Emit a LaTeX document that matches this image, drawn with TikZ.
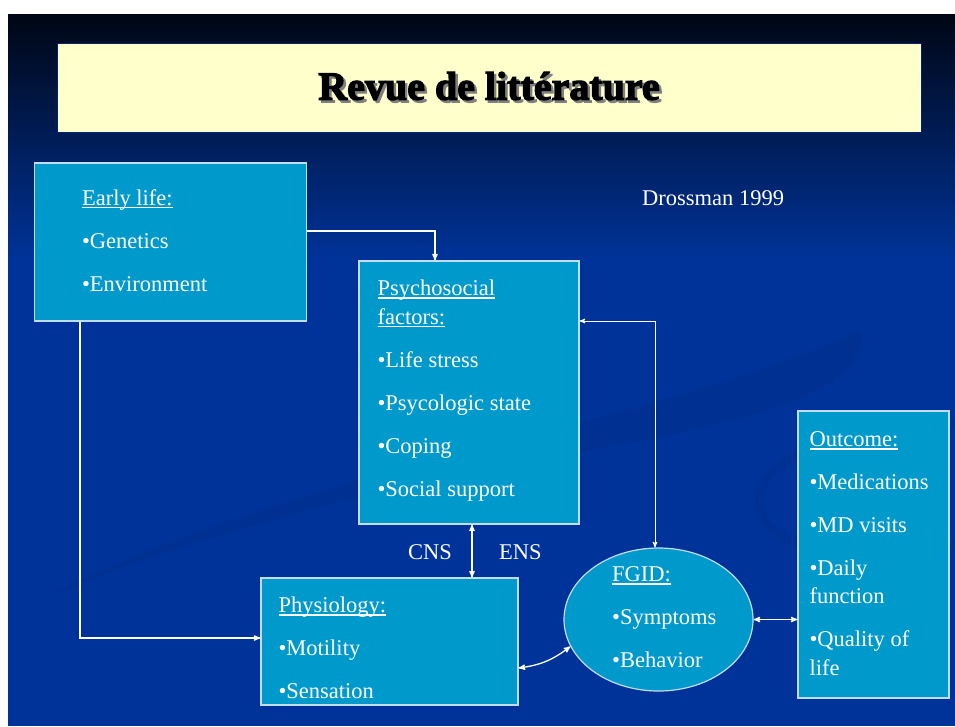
\documentclass[tikz,border=0pt]{standalone}
\usepackage{fontspec}
\setmainfont{Liberation Serif}
\newfontfamily\titlefont{Liberation Serif}[BoldFeatures={FakeBold=3}]
\usetikzlibrary{arrows,shapes.geometric,positioning}

\definecolor{slideblue}{HTML}{003399}
\definecolor{slidetop}{HTML}{000614}
\definecolor{boxblue}{HTML}{0099CC}
\definecolor{boxline}{HTML}{C4DCF0}
\definecolor{titlebg}{HTML}{FFFFCC}
\definecolor{swirl}{HTML}{003192}

% underlined heading, rule crossing the descenders
\newcommand{\ulhead}[1]{\setbox0\hbox{#1}\rlap{\rule[-3.4pt]{\wd0}{1.9pt}}\box0}

\tikzset{
  box/.style={rectangle, draw=boxline, line width=1.2pt, fill=boxblue, inner sep=0pt},
  txt/.style={text=white, inner sep=0pt, align=left, anchor=north west,
    font=\fontsize{22.5}{28.5}\selectfont},
  link/.style={draw=white, line width=1.3pt},
  heading/.style={font=\titlefont\bfseries\fontsize{40}{44}\selectfont},
}

\begin{document}
\begin{tikzpicture}[x=1pt, y=-1pt, >=stealth']
\useasboundingbox (0,0) rectangle (955,726);
% slide background
\fill[white] (0,0) rectangle (955,726);
\fill[slideblue] (8,14) rectangle (955,726);
\shade[top color=slidetop, bottom color=slideblue] (8,14) rectangle (955,260);
\fill[swirl] (20,610) .. controls (300,460) and (650,430) .. (860,330)
  .. controls (875,375) and (800,415) .. (600,448)
  .. controls (350,490) and (150,550) .. cycle;
\draw[swirl, line width=8pt] (955,425) .. controls (800,430) and (730,480) .. (770,525)
  .. controls (800,560) and (900,560) .. (955,545);

% title
\node[fill=titlebg, draw=slideblue!70!black, line width=1pt, minimum width=864,
  minimum height=89, inner sep=0pt] (title) at (489,87.5) {};
\node[heading, text=black!50] (title-shadow)
  at ([shift={(2.5pt,-1pt)}]title.center) {Revue de littérature};
\node[heading, text=black] (title-txt) at ([yshift=1.5pt]title.center) {Revue de littérature};

% boxes
\node[box, minimum width=272, minimum height=158] (early) at (170.5,242) {};
\node[box, minimum width=220, minimum height=263] (psycho) at (469,392.5) {};
\node[box, minimum width=257, minimum height=127] (physio) at (389.5,641.5) {};
\node[box, minimum width=151, minimum height=287] (outcome) at (873.5,554.5) {};
\node[box, ellipse, minimum width=189, minimum height=143] (fgid) at (658.5,619.5) {};

% box texts
\node[txt] (early-txt) at ([shift={(48,26.6)}]early.north west)
  {\ulhead{Early life:}\\[14.5pt] •Genetics\\[14.5pt] •Environment};
\node[txt] (psycho-txt) at ([shift={(19,19.3)}]psycho.north west)
  {\ulhead{Psychosocial}\\ \ulhead{factors:}\\[14.5pt] •Life stress\\[14.5pt]
   •Psycologic state\\[14.5pt] •Coping\\[14.5pt] •Social support};
\node[txt] (physio-txt) at ([shift={(18,19.6)}]physio.north west)
  {\ulhead{Physiology:}\\[14.5pt] •Motility\\[14.5pt] •Sensation};
\node[txt] (outcome-txt) at ([shift={(12,20.8)}]outcome.north west)
  {\ulhead{Outcome:}\\[14.5pt] •Medications\\[14.5pt] •MD visits\\[14.5pt]
   •Daily\\ function\\[14.5pt] •Quality of\\ life};
\node[txt] (fgid-txt) at ([shift={(-46.5,-52.7)}]fgid.center)
  {\ulhead{FGID:}\\[14.5pt] •Symptoms\\[14.5pt] •Behavior};

\node[txt, anchor=base west] (ref) at (642,205) {Drossman 1999};
\node[txt, anchor=base west] (cns) at (408,559) {CNS};
\node[txt, anchor=base west] (ens) at (499,559) {ENS};

% links
\draw[link,->] ([yshift=11pt]early.east) -| ([xshift=-34pt]psycho.north);
\draw[link,->] ([xshift=-90.5pt]early.south) |- ([yshift=3.5pt]physio.west);
\draw[link,<->, line width=1pt] ([yshift=71.5pt]psycho.east) -| ([xshift=-3.5pt]fgid.north);
\draw[link,<->] ([xshift=3pt]psycho.south) -- ([xshift=3pt]psycho.south |- physio.north);
\draw[link,<->] ([yshift=-26.5pt]physio.east) to[bend right=15] (fgid.197);
\draw[link,<->] (fgid.east) -- (fgid.east -| outcome.west);
\end{tikzpicture}
\end{document}
